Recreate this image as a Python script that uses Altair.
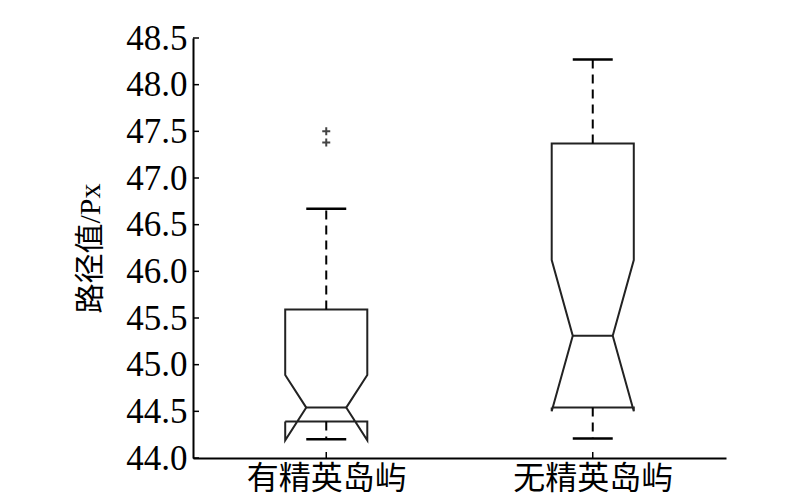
import altair as alt
import pandas as pd

# ---- data ----
categories = ["有精英岛屿", "无精英岛屿"]
positions = [1, 2]
q1 = [44.39, 44.54]
median = [44.54, 45.31]
q3 = [45.59, 47.37]
notch_lo = [44.19, 44.50]
notch_hi = [44.89, 46.12]
whisker_lo = [44.20, 44.21]
whisker_hi = [46.67, 48.27]
outlier_pos = [1, 1]
outlier_values = [47.50, 47.38]
y_ticks = [44.0, 44.5, 45.0, 45.5, 46.0, 46.5, 47.0, 47.5, 48.0, 48.5]

# ---- styling constants ----
BOX_HW = 0.154     # box half width (x units)
NOTCH_HW = 0.075   # notch waist half width
CAP_HW = 0.075     # whisker cap half width
LINE = "#222222"
LW = 2

# outline polygons (notched boxes)
rows = []
for g, p in enumerate(positions):
    L, R, iL, iR = p - BOX_HW, p + BOX_HW, p - NOTCH_HW, p + NOTCH_HW
    pts = [(L, q1[g]), (L, notch_lo[g]), (iL, median[g]), (L, notch_hi[g]), (L, q3[g]),
           (R, q3[g]), (R, notch_hi[g]), (iR, median[g]), (R, notch_lo[g]), (R, q1[g]),
           (L, q1[g])]
    for k, (x, y) in enumerate(pts):
        rows.append({"grp": categories[g], "idx": k, "x": x, "y": y})
outline = pd.DataFrame(rows)

stats = pd.DataFrame({
    "cat": categories, "pos": positions, "q1": q1, "q3": q3, "median": median,
    "wlo": whisker_lo, "whi": whisker_hi,
})
stats["mL"] = stats["pos"] - NOTCH_HW
stats["mR"] = stats["pos"] + NOTCH_HW
stats["cL"] = stats["pos"] - CAP_HW
stats["cR"] = stats["pos"] + CAP_HW

outl = pd.DataFrame({"pos": outlier_pos, "v": outlier_values})
ticks_df = pd.DataFrame({"t": y_ticks})

label_expr = " : ".join(
    [f"datum.value == {p} ? '{c}'" for p, c in zip(positions, categories)]
) + " : ''"

xscale = alt.Scale(domain=[0.5, 2.5], nice=False, zero=False)
yscale = alt.Scale(domain=[44.0, 48.5], nice=False, zero=False)

x_axis = alt.Axis(values=positions, labelExpr=label_expr, ticks=False, grid=False,
                  domainColor="black", domainWidth=2, labelFont="Noto Sans CJK SC",
                  labelFontSize=32, labelColor="black", labelPadding=5, title=None)
y_axis = alt.Axis(values=y_ticks, format=".1f", ticks=False, grid=False,
                  domainColor="black", domainWidth=2, labelFont="Liberation Serif",
                  labelFontSize=35, labelColor="black", labelPadding=6,
                  title="路径值/Px", titleFont="Liberation Serif, Noto Sans CJK SC",
                  titleFontSize=30, titleFontWeight="normal", titleColor="black",
                  titlePadding=20)

base_x = alt.X("x:Q", scale=xscale, axis=x_axis)
base_y = alt.Y("y:Q", scale=yscale, axis=y_axis)

boxes = alt.Chart(outline).mark_line(color=LINE, strokeWidth=LW, strokeJoin="miter").encode(
    x=base_x, y=base_y, detail="grp:N", order=alt.Order("idx:Q")
)

upper_w = alt.Chart(stats).mark_rule(color="black", strokeWidth=LW, strokeDash=[9, 6]).encode(
    x=alt.X("pos:Q", scale=xscale), y=alt.Y("q3:Q", scale=yscale), y2="whi:Q"
)
lower_w = alt.Chart(stats).mark_rule(color="black", strokeWidth=LW, strokeDash=[9, 6]).encode(
    x=alt.X("pos:Q", scale=xscale), y=alt.Y("q1:Q", scale=yscale), y2="wlo:Q"
)
cap_hi = alt.Chart(stats).mark_rule(color="black", strokeWidth=2.5).encode(
    x=alt.X("cL:Q", scale=xscale), x2="cR:Q", y=alt.Y("whi:Q", scale=yscale)
)
cap_lo = alt.Chart(stats).mark_rule(color="black", strokeWidth=2.5).encode(
    x=alt.X("cL:Q", scale=xscale), x2="cR:Q", y=alt.Y("wlo:Q", scale=yscale)
)
med = alt.Chart(stats).mark_rule(color=LINE, strokeWidth=LW).encode(
    x=alt.X("mL:Q", scale=xscale), x2="mR:Q", y=alt.Y("median:Q", scale=yscale)
)
outliers = alt.Chart(outl).mark_point(
    shape="M-1,0L1,0M0,-1L0,1", size=64, filled=False, color="#444444", strokeWidth=2,
    opacity=1
).encode(x=alt.X("pos:Q", scale=xscale), y=alt.Y("v:Q", scale=yscale))

# inward tick marks
ytick_marks = alt.Chart(ticks_df).mark_rule(color="black", strokeWidth=1.5).encode(
    x=alt.value(0), x2=alt.value(6), y=alt.Y("t:Q", scale=yscale)
)
xtick_marks = alt.Chart(stats).mark_rule(color="black", strokeWidth=1.5).encode(
    x=alt.X("pos:Q", scale=xscale), y=alt.value(420), y2=alt.value(414)
)

chart = alt.layer(
    boxes, upper_w, lower_w, cap_hi, cap_lo, med, outliers, ytick_marks, xtick_marks
).properties(
    width=533, height=420,
    padding={"left": 185, "top": 30, "right": 50, "bottom": 42},
    autosize=alt.AutoSizeParams(type="none"),
    background="white",
).configure_view(strokeWidth=0, stroke=None)

chart.save("out.html", embed_options={"renderer": "svg", "actions": False})
